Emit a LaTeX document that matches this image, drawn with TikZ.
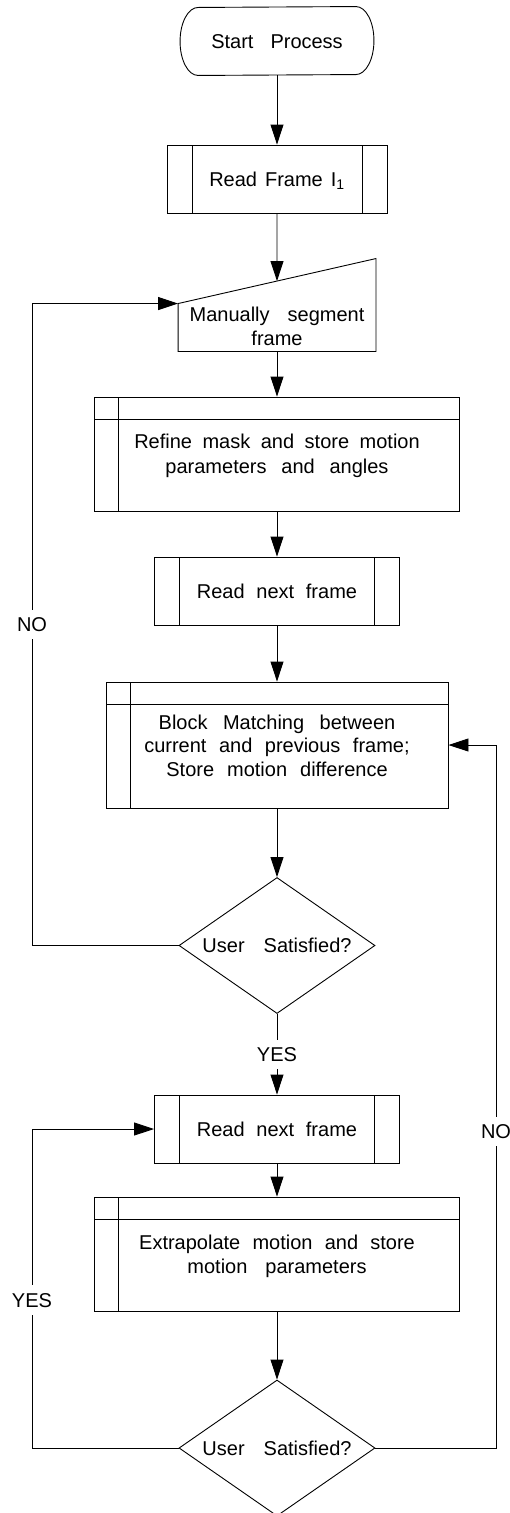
\documentclass[tikz,border=0pt]{standalone}
\usepackage{fontspec}
\setmainfont{Liberation Sans}
\usetikzlibrary{arrows.meta,shapes.geometric,calc}

% local word spacing for a run of text
\newcommand\wordgap[2]{{\spaceskip=#1pt\relax#2}}

\begin{document}
\begin{tikzpicture}[x=1pt,y=-1pt,line width=0.9pt,
  every node/.style={font=\fontsize{20pt}{23.3pt}\selectfont},
  flow/.style={-{Triangle[length=20pt,width=13pt]}},
  oneline/.style={inner sep=0pt,text height=14.3pt,text depth=0pt},
  term/.style={oneline,minimum width=193pt,minimum height=68pt},
  manual/.style={inner sep=0pt,minimum width=197pt,minimum height=92pt},
  predef/.style={draw,oneline,minimum height=68pt,
    path picture={
      \draw ([xshift=25pt]path picture bounding box.north west) -- ([xshift=25pt]path picture bounding box.south west);
      \draw ([xshift=-25pt]path picture bounding box.north east) -- ([xshift=-25pt]path picture bounding box.south east);}},
  header/.style={draw,inner sep=0pt,
    path picture={
      \draw ([xshift=24pt]path picture bounding box.north west) -- ([xshift=24pt]path picture bounding box.south west);
      \draw ([yshift=-22pt]path picture bounding box.north west) -- ([yshift=-22pt]path picture bounding box.north east);}},
  decision/.style={draw,diamond,aspect=1.45,oneline,minimum width=196pt,minimum height=136pt},
  body/.style={align=center,anchor=base,inner sep=0pt},
  lbl/.style={fill=white,oneline,inner xsep=2pt,inner ysep=7.5pt}]

\useasboundingbox (0,0) rectangle (509,1513);

% start terminal with elliptic ends
\node[term] (start) at (277,41) {\wordgap{17}{Start Process}};
\draw ([xshift=-18pt]start.north east)
  arc[start angle=90,end angle=-90,x radius=18pt,y radius=34pt]
  -- ([xshift=18pt]start.south west)
  arc[start angle=270,end angle=90,x radius=18pt,y radius=34pt] -- cycle;

\node[predef,minimum width=220pt] (read1) at (277,179) {\wordgap{8}{Read Frame I$_{\mathrm{1}}$}};

% manual input: slanted top edge
\node[manual] (seg) at (277,305) {};
\coordinate (segcorner) at ([yshift=-45pt]seg.north west);
\coordinate (segin) at ($(segcorner)!0.5!(seg.north east)$);
\draw (seg.south west) -- (segcorner) -- (seg.north east) -- (seg.south east) -- cycle;
% multi-line text nodes are placed by the baseline of their last line
\node[body] (segtxt) at (277,345) {\wordgap{18}{Manually segment}\\frame};

\node[header,minimum width=365pt,minimum height=114pt] (refine) at (277,454) {};
\node[body,font=\fontsize{20pt}{25pt}\selectfont] (refinetxt) at (277,473)
  {\wordgap{10.5}{Refine mask and store motion}\\\wordgap{14.8}{parameters and angles}};

\node[predef,minimum width=245pt] (read2) at (277,591) {\wordgap{11.7}{Read next frame}};

\node[header,minimum width=342pt,minimum height=126pt] (block) at (277,745) {};
\node[body] (blocktxt) at (277,776)
  {\wordgap{15.5}{Block Matching between}\\\wordgap{12.5}{current and previous frame;}\\\wordgap{13}{Store motion difference}};

\node[decision] (dia1) at (277,945.5) {\wordgap{19}{User Satisfied?}};

\node[predef,minimum width=245pt] (read3) at (277,1129) {\wordgap{11.7}{Read next frame}};

\node[header,minimum width=365pt,minimum height=114pt] (extra) at (277,1254) {};
\node[body] (extratxt) at (277,1273)
  {\wordgap{12.2}{Extrapolate motion and store}\\\wordgap{18}{motion parameters}};

\node[decision] (dia2) at (277,1448) {\wordgap{19}{User Satisfied?}};

% side rails for the loops
\coordinate (lx) at (32,0);
\coordinate (rx) at (496,0);

\draw[flow] (start) -- (read1);
\draw[flow] (read1) -- (segin);
\draw[flow] (seg.south) -- (refine.north);
\draw[flow] (refine) -- (read2);
\draw[flow] (read2) -- (block);
\draw[flow] (block) -- (dia1);
\draw[flow] (dia1) -- node[lbl] {YES} (read3);
\draw[flow] (read3) -- (extra);
\draw[flow] (extra) -- (dia2);

\draw[flow] (dia1.west) -| node[lbl,pos=0.75] {NO} (lx |- segcorner) -- (segcorner);
\draw[flow] (dia2.west) -| node[lbl,pos=0.732] {YES} (lx |- read3.west) -- (read3.west);
\draw[flow] (dia2.east) -| node[lbl,pos=0.725] {NO} (rx |- block.east) -- (block.east);
\end{tikzpicture}
\end{document}
